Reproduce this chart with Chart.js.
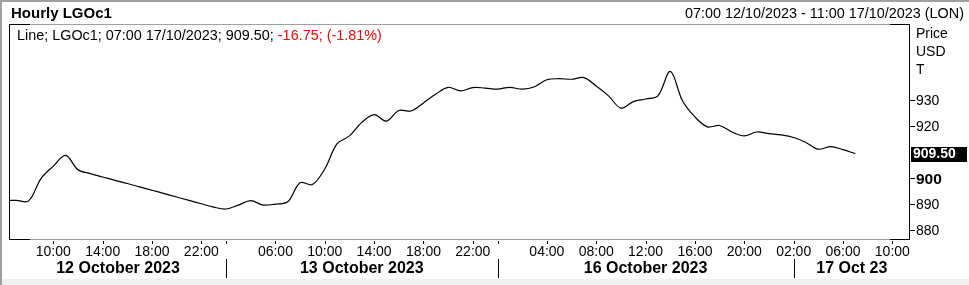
<!DOCTYPE html>
<html>
<head>
<meta charset="utf-8">
<script src="https://cdn.jsdelivr.net/npm/chart.js@4"></script>
<style>
  body { margin: 0; background: #fff; }
  #wrap { width: 969px; height: 285px; }
</style>
</head>
<body>
<div id="wrap"><canvas id="myChart" width="969" height="285"></canvas></div>
<script>
// x = hourly slot, 0 = 07:00 12/10; closed hours and the weekend are squeezed out
const slots = [-1, 0, 1, 2, 3, 4, 5, 6, 7, 8, 9, 10, 11, 12, 13, 14, 15, 16, 17, 18, 19, 20, 21, 22, 23, 24, 25, 26, 27, 28, 29, 30, 31, 32, 33, 34, 35, 36, 37, 38, 39, 40, 41, 42, 43, 44, 45, 46, 47, 48, 49, 50, 51, 52, 53, 54, 55, 56, 57, 58, 59, 60, 61, 62, 63, 64, 65, 66, 67, 68];
const prices = [891.5, 891.5, 891.3, 899.9, 904.7, 908.8, 903.3, 901.8, 900.5, 899.2, 898.0, 896.7, 895.4, 894.1, 892.8, 891.5, 890.2, 888.9, 888.2, 889.7, 891.4, 889.7, 890.1, 891.0, 898.3, 897.6, 903.6, 913.3, 916.3, 921.5, 924.5, 922.0, 926.1, 925.9, 929.0, 932.4, 935.0, 933.6, 934.9, 934.7, 934.3, 935.0, 934.3, 935.2, 937.9, 938.3, 938.1, 938.7, 935.5, 931.7, 927.0, 929.5, 930.5, 931.7, 941.1, 929.7, 923.6, 919.8, 920.3, 917.8, 916.3, 917.8, 917.2, 916.7, 915.7, 913.8, 911.2, 912.2, 911.0, 909.5];

const hourTicks = [3, 7, 11, 15, 21, 25, 29, 33, 37, 43, 47, 51, 55, 59, 63, 67, 71];
const hourLabels = ['10:00', '14:00', '18:00', '22:00', '06:00', '10:00', '14:00', '18:00', '22:00', '04:00', '08:00', '12:00', '16:00', '20:00', '02:00', '06:00', '10:00'];
const dayEdges = [17, 39, 63];
const dayLabels = ['12 October 2023', '13 October 2023', '16 October 2023', '17 Oct 23'];
const priceTicks = [880, 890, 900, 920, 930];
const unitLabels = ['Price', 'USD', 'T'];

const lastPrice = '909.50';
const legendText = 'Line; LGOc1; 07:00 17/10/2023; 909.50; ';
const changeText = '-16.75; (-1.81%)';

const FONT = '"Liberation Sans", Arial, sans-serif';

const decor = {
  id: 'decor',
  afterDraw(chart) {
    const ctx = chart.ctx;
    const a = chart.chartArea;
    const xs = chart.scales.x;
    const ys = chart.scales.y;
    ctx.save();

    // outer frame
    ctx.fillStyle = '#f0f0f0';
    ctx.fillRect(0, 279, 969, 6);
    ctx.fillStyle = '#a0a0a0';
    ctx.fillRect(0, 0, 969, 2);
    ctx.fillRect(0, 0, 2, 285);

    // plot frame
    ctx.strokeStyle = '#a0a0a0';
    ctx.lineWidth = 1;
    ctx.beginPath();
    ctx.moveTo(a.left, a.top - 0.5); ctx.lineTo(a.right, a.top - 0.5);
    ctx.moveTo(a.left, a.bottom - 0.5); ctx.lineTo(a.right, a.bottom - 0.5);
    ctx.stroke();
    ctx.strokeStyle = '#000';
    ctx.beginPath();
    ctx.moveTo(a.left - 0.5, a.top - 1); ctx.lineTo(a.left - 0.5, a.bottom);
    ctx.moveTo(a.right - 0.5, a.top - 1); ctx.lineTo(a.right - 0.5, a.bottom);
    ctx.moveTo(a.left, a.top - 0.5); ctx.lineTo(a.left + 20, a.top - 0.5);
    ctx.moveTo(a.right - 20, a.top - 0.5); ctx.lineTo(a.right, a.top - 0.5);
    ctx.moveTo(a.left, a.bottom - 0.5); ctx.lineTo(a.left + 20, a.bottom - 0.5);
    ctx.moveTo(a.right - 20, a.bottom - 0.5); ctx.lineTo(a.right, a.bottom - 0.5);
    ctx.stroke();

    // header
    ctx.fillStyle = '#000';
    ctx.textBaseline = 'middle';
    ctx.font = 'bold 15px ' + FONT;
    ctx.textAlign = 'left';
    ctx.fillText('Hourly LGOc1', 11, 14);
    ctx.font = '14.4px ' + FONT;
    ctx.textAlign = 'right';
    ctx.fillText('07:00 12/10/2023 - 11:00 17/10/2023 (LON)', 964, 14);

    // legend line
    ctx.textAlign = 'left';
    ctx.fillText(legendText, 17, 36);
    const w = ctx.measureText(legendText).width;
    ctx.fillStyle = '#ff0000';
    ctx.fillText(changeText, 17 + w, 36);

    // y axis (right)
    ctx.fillStyle = '#000';
    ctx.beginPath();
    priceTicks.forEach(function (v) {
      const y = Math.round(ys.getPixelForValue(v)) + 0.5;
      ctx.moveTo(a.right, y); ctx.lineTo(a.right + 5, y);
    });
    ctx.stroke();
    priceTicks.forEach(function (v) {
      const y = ys.getPixelForValue(v);
      ctx.font = (v === 900 ? 'bold 15.5px ' : '14px ') + FONT;
      ctx.fillText(String(v), a.right + 6, y + 1);
    });
    ctx.font = '14px ' + FONT;
    unitLabels.forEach(function (t, i) {
      ctx.fillText(t, a.right + 6, 34 + i * 18);
    });

    // last price box
    const py = ys.getPixelForValue(prices[prices.length - 1]);
    ctx.fillStyle = '#000';
    ctx.fillRect(a.right + 1, Math.round(py) - 7, 56, 15);
    ctx.fillStyle = '#fff';
    ctx.font = 'bold 14px ' + FONT;
    ctx.fillText(lastPrice, a.right + 3, py + 1);

    // x axis
    ctx.fillStyle = '#000';
    ctx.beginPath();
    hourTicks.concat(dayEdges).forEach(function (s) {
      const x = Math.round(xs.getPixelForValue(s)) + 0.5;
      ctx.moveTo(x, a.bottom + 1); ctx.lineTo(x, a.bottom + 4);
    });
    dayEdges.forEach(function (s) {
      const x = Math.round(xs.getPixelForValue(s)) + 0.5;
      ctx.moveTo(x, 259); ctx.lineTo(x, 278);
    });
    ctx.stroke();
    ctx.textAlign = 'center';
    ctx.font = '14px ' + FONT;
    hourTicks.forEach(function (s, i) {
      ctx.fillText(hourLabels[i], xs.getPixelForValue(s), 252);
    });
    const edges = [a.left].concat(dayEdges.map(function (s) { return xs.getPixelForValue(s); }), [a.right]);
    ctx.font = 'bold 16px ' + FONT;
    dayLabels.forEach(function (t, i) {
      ctx.fillText(t, (edges[i] + edges[i + 1]) / 2, 269);
    });

    ctx.restore();
  }
};

const ctx = document.getElementById('myChart').getContext('2d');
const myChart = new Chart(ctx, {
  type: 'line',
  data: {
    datasets: [{
      label: 'LGOc1',
      data: slots.map(function (s, i) { return { x: s, y: prices[i] }; }),
      borderColor: '#000',
      borderWidth: 1.2,
      pointRadius: 0,
      tension: 0.35,
      fill: false
    }]
  },
  options: {
    responsive: false,
    animation: false,
    layout: { padding: { left: 10, right: 59, top: 25, bottom: 45 } },
    plugins: { legend: { display: false }, tooltip: { enabled: false } },
    scales: {
      x: { type: 'linear', min: -0.51, max: 72.43, display: false },
      y: { min: 876.27, max: 958.96, display: false }
    }
  },
  plugins: [decor]
});
</script>
</body>
</html>
